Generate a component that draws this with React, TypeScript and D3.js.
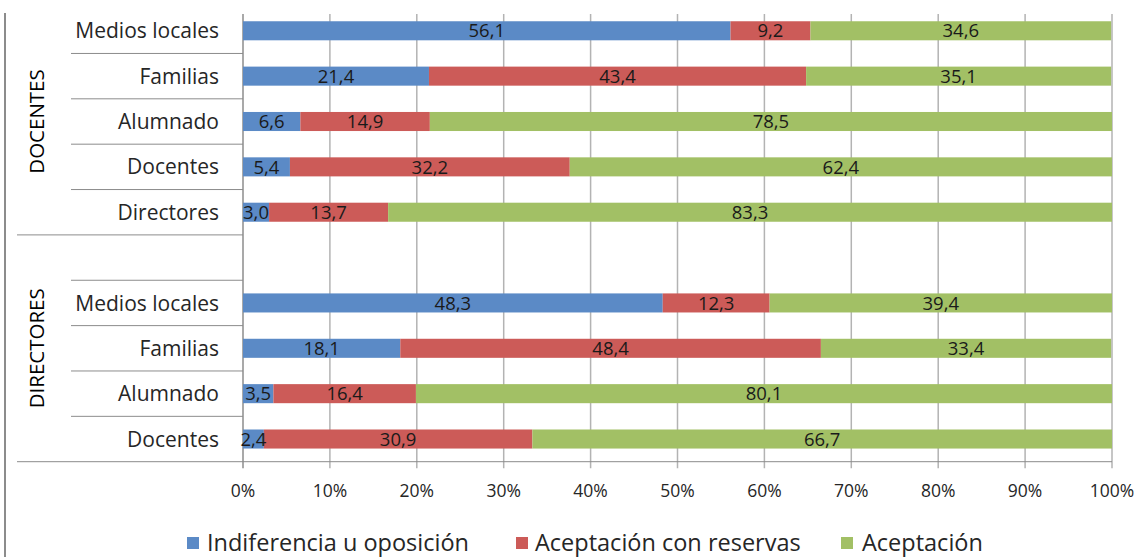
import React from "react";
import * as d3 from "d3";

const categories = [
  "DOC|Medios locales",
  "DOC|Familias",
  "DOC|Alumnado",
  "DOC|Docentes",
  "DOC|Directores",
  "GAP|",
  "DIR|Medios locales",
  "DIR|Familias",
  "DIR|Alumnado",
  "DIR|Docentes",
];
const categoryLabels = [
  "Medios locales", "Familias", "Alumnado", "Docentes", "Directores",
  "", "Medios locales", "Familias", "Alumnado", "Docentes",
];
const indiferencia = [56.1, 21.4, 6.6, 5.4, 3.0, null, 48.3, 18.1, 3.5, 2.4];
const reservas = [9.2, 43.4, 14.9, 32.2, 13.7, null, 12.3, 48.4, 16.4, 30.9];
const aceptacion = [34.6, 35.1, 78.5, 62.4, 83.3, null, 39.4, 33.4, 80.1, 66.7];
const seriesNames = ["Indiferencia u oposición", "Aceptación con reservas", "Aceptación"];
const groups = [
  { name: "DOCENTES", first: 0, last: 4 },
  { name: "DIRECTORES", first: 5, last: 9 },
];
const xTicks = [0, 10, 20, 30, 40, 50, 60, 70, 80, 90, 100];

const colors = ["#5B8AC6", "#CC5B58", "#A2C065"];
const FONT = "'Open Sans', Lato, sans-serif";

export default function App() {
  const W = 1138, H = 557;
  const x = d3.scaleLinear().domain([0, 100]).range([243, 1112]);
  const y = d3.scaleBand<string>().domain(categories).range([8.1, 461.7]).paddingInner(0.58).paddingOuter(0.29);
  const step = y.step();
  const top = 14, bottom = 461.7;
  const seriesData = [indiferencia, reservas, aceptacion];

  const bars: React.ReactNode[] = [];
  const labels: React.ReactNode[] = [];
  categories.forEach((c, i) => {
    let cum = 0;
    seriesData.forEach((s, k) => {
      const v = s[i];
      if (v == null) return;
      const x0 = x(cum);
      const x1 = x(Math.min(100, cum + v));
      const yy = y(c)!;
      bars.push(
        <rect key={`b${i}-${k}`} x={x0} y={yy} width={x1 - x0} height={y.bandwidth()} fill={colors[k]} />
      );
      labels.push(
        <text key={`l${i}-${k}`} x={(x0 + x1) / 2} y={yy + y.bandwidth() / 2} dy="0.36em"
          textAnchor="middle" fontSize={18.5} fill="#1a1a1a" fontFamily={FONT}>
          {v.toFixed(1).replace(".", ",")}
        </text>
      );
      cum += v;
    });
  });

  const slotTop = (i: number) => y(categories[i])! + y.bandwidth() / 2 - step / 2;
  const boundaries: React.ReactNode[] = [];
  for (let i = 1; i <= categories.length; i++) {
    const yb = i === categories.length ? bottom : slotTop(i);
    const isGroupEnd = i === 5 || i === 10;
    boundaries.push(
      <line key={`sep${i}`} x1={isGroupEnd ? 17 : 71} x2={243} y1={yb} y2={yb} stroke="#8c8c8c" strokeWidth={1} />
    );
  }

  const legendItems = [
    { x: 187, tx: 207 },
    { x: 516, tx: 535 },
    { x: 841, tx: 862 },
  ];

  return (
    <svg width={W} height={H} style={{ display: "block", position: "absolute", left: 0, top: 0, background: "#fff" }}>
      <rect x={0} y={0} width={W} height={H} fill="#fff" />
      {xTicks.map((t) => (
        <line key={`g${t}`} x1={x(t)} x2={x(t)} y1={top} y2={bottom + 6.5} stroke="#b3b3b3" strokeWidth={1.5} />
      ))}
      <line x1={5} x2={5} y1={13} y2={H} stroke="#8c8c8c" strokeWidth={2} />
      <line x1={243} x2={243} y1={top} y2={bottom + 6.5} stroke="#8c8c8c" strokeWidth={1} />
      <line x1={243} x2={1112} y1={bottom} y2={bottom} stroke="#8c8c8c" strokeWidth={1} />
      {boundaries}
      {bars}
      {labels}
      {categories.map((c, i) => (
        <text key={`c${i}`} x={219} y={y(c)! + y.bandwidth() / 2} dy="0.36em" textAnchor="end"
          fontSize={21} fill="#262626" fontFamily={FONT}>
          {categoryLabels[i]}
        </text>
      ))}
      {groups.map((g) => {
        const cy = (slotTop(g.first) + slotTop(g.last) + step) / 2;
        return (
          <text key={g.name} transform={`translate(37,${cy}) rotate(-90)`} dy="0.36em" textAnchor="middle"
            fontSize={20.5} fill="#000" fontFamily={FONT}>
            {g.name}
          </text>
        );
      })}
      {xTicks.map((t) => (
        <text key={`t${t}`} x={x(t)} y={491} dy="0.36em" textAnchor="middle" fontSize={17.5} fill="#262626" fontFamily={FONT}>
          {`${t}%`}
        </text>
      ))}
      {seriesNames.map((n, k) => (
        <g key={n}>
          <rect x={legendItems[k].x} y={537} width={12} height={12} fill={colors[k]} />
          <text x={legendItems[k].tx} y={543} dy="0.36em" fontSize={23.5} fill="#262626" fontFamily={FONT}>{n}</text>
        </g>
      ))}
    </svg>
  );
}
